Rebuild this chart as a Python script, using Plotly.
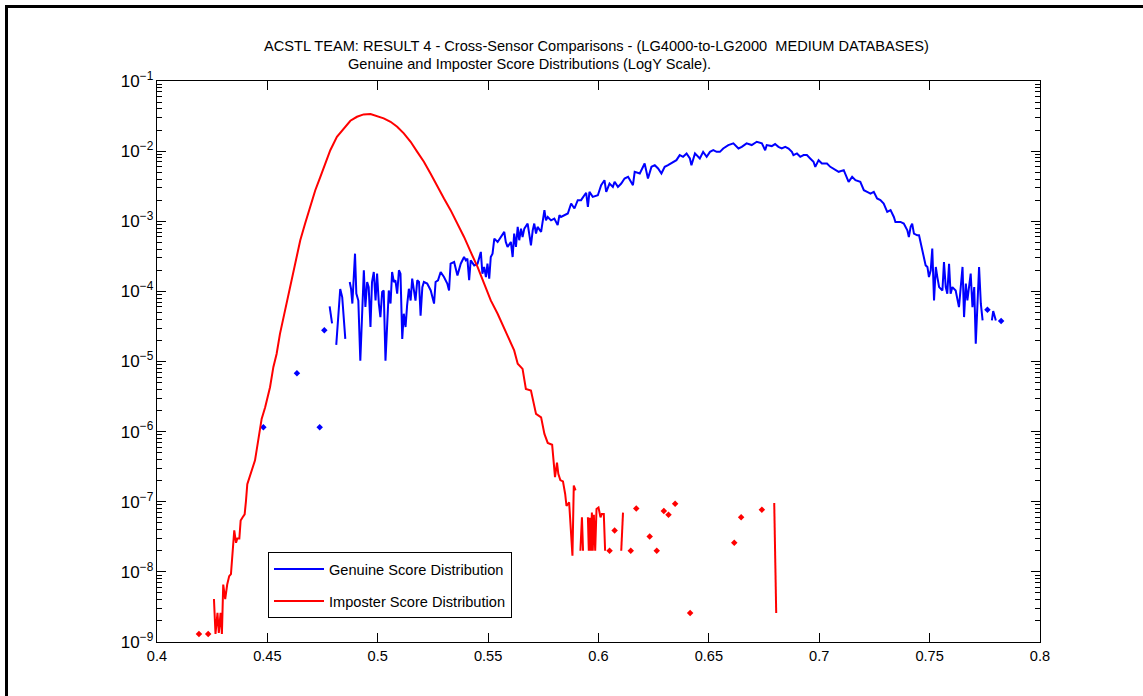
import plotly.graph_objects as go

# ---------------- data ----------------
gen_x = [0.4482, None, 0.4634, None, 0.4737, None, 0.4758, None,
         0.4782, 0.4793, None,
         0.4812, 0.4830, 0.4839, 0.4853, None,
         0.4873, 0.4879, 0.4885, 0.4891, 0.4897, 0.4903, 0.4912, 0.4921, 0.4929, 0.4937,
         0.4944, 0.4952, 0.4959, 0.4967, 0.4974, 0.4982, 0.4990, 0.4997, 0.5005, 0.5012,
         0.5020, 0.5027, 0.5035, 0.5043, 0.5050, 0.5058, 0.5065, 0.5073, 0.5080, 0.5088,
         0.5096, 0.5103, 0.5111, 0.5118, 0.5126, 0.5133, 0.5141, 0.5149, 0.5156, 0.5164,
         0.5171, 0.5179, 0.5187, 0.5194, 0.5202, 0.5209, 0.5224, 0.5240, 0.5255, 0.5262,
         0.5273, 0.5285, 0.5300, 0.5315, 0.5323, 0.5330, 0.5346, 0.5361, 0.5376, 0.5391,
         0.5399, 0.5406, 0.5414, 0.5421, 0.5437, 0.5452, 0.5467, 0.5474, 0.5482, 0.5490,
         0.5497, 0.5505, 0.5512, 0.5520, 0.5528, 0.5543, 0.5558, 0.5573, 0.5580, 0.5588,
         0.5603, 0.5611, 0.5618, 0.5626, 0.5634, 0.5641, 0.5649, 0.5656, 0.5664, 0.5679,
         0.5686, 0.5694, 0.5702, 0.5709, 0.5717, 0.5724, 0.5740, 0.5755, 0.5762, 0.5770,
         0.5785, 0.5800, 0.5815, 0.5823, 0.5830, 0.5846, 0.5861, 0.5876, 0.5891, 0.5906,
         0.5921, 0.5936, 0.5944, 0.5952, 0.5959, 0.5974, 0.5997, 0.6012, 0.6027, 0.6035,
         0.6050, 0.6065, 0.6073, 0.6088, 0.6103, 0.6118, 0.6134, 0.6156, 0.6164, 0.6187,
         0.6209, 0.6224, 0.6240, 0.6255, 0.6270, 0.6285, 0.6300, 0.6315, 0.6338, 0.6353,
         0.6368, 0.6383, 0.6399, 0.6414, 0.6421, 0.6437, 0.6459, 0.6474, 0.6490, 0.6505,
         0.6520, 0.6535, 0.6550, 0.6565, 0.6588, 0.6611, 0.6634, 0.6649, 0.6671, 0.6694,
         0.6717, 0.6740, 0.6755, 0.6762, 0.6785, 0.6800, 0.6815, 0.6830, 0.6846, 0.6861,
         0.6876, 0.6883, 0.6899, 0.6914, 0.6929, 0.6944, 0.6959, 0.6974, 0.6982, 0.6997,
         0.7012, 0.7035, 0.7050, 0.7065, 0.7088, 0.7111, 0.7133, 0.7149, 0.7164, 0.7186,
         0.7202, 0.7217, 0.7232, 0.7247, 0.7262, 0.7277, 0.7292, 0.7308, 0.7323, 0.7338,
         0.7345, 0.7368, 0.7383, 0.7399, 0.7406, 0.7414, 0.7421, 0.7429, 0.7444, 0.7452,
         0.7467, 0.7482, 0.7490, 0.7497, 0.7505, 0.7512, 0.7520, 0.7528, 0.7535, 0.7543,
         0.7558, 0.7565, 0.7573, 0.7580, 0.7588, 0.7595, 0.7603, 0.7618, 0.7633, 0.7649,
         0.7656, 0.7664, 0.7671, 0.7679, 0.7686, 0.7694, 0.7702, 0.7709, 0.7717, 0.7724,
         0.7732, 0.7740, None, 0.7762, None, 0.7782, 0.7788, 0.7800, None, 0.7824]
gen_y = [1.15e-6, None, 6.8e-6, None, 1.15e-6, None, 2.8e-5, None,
         6.1e-5, 3.5e-5, None,
         1.73e-5, 1.08e-4, 8.3e-5, 2.1e-5, None,
         1.36e-4, 1.09e-4, 6.7e-5, 1.44e-4, 3.45e-4, 9.3e-5, 7.4e-5, 1.03e-5, 4.8e-5, 2.0e-4,
         6.0e-5, 1.36e-4, 1.15e-4, 3.1e-5, 1.36e-4, 1.89e-4, 7.4e-5, 1.79e-4, 6.7e-5, 4.3e-5,
         9.8e-5, 1.03e-4, 1.03e-5, 4.8e-5, 1.03e-4, 6.7e-5, 1.89e-4, 1.36e-4, 1.44e-4, 9.3e-5,
         2.0e-4, 1.79e-4, 2.1e-5, 4.8e-5, 3.1e-5, 6.3e-5, 1.09e-4, 7.4e-5, 1.52e-4, 1.03e-4,
         7.4e-5, 1.44e-4, 1.36e-4, 4.5e-5, 1.15e-4, 1.36e-4, 1.29e-4, 1.03e-4, 6.7e-5, 1.36e-4,
         1.44e-4, 1.89e-4, 1.60e-4, 1.29e-4, 1.03e-4, 2.48e-4, 2.62e-4, 1.69e-4, 2.48e-4, 3.09e-4,
         2.77e-4, 2.93e-4, 1.44e-4, 2.77e-4, 2.35e-4, 2.48e-4, 3.65e-4, 1.79e-4, 2.23e-4, 1.60e-4,
         2.48e-4, 1.52e-4, 3.09e-4, 3.45e-4, 5.65e-4, 5.07e-4, 5.97e-4, 7.05e-4, 5.07e-4, 4.3e-4,
         5.07e-4, 3.09e-4, 6.67e-4, 4.3e-4, 8.3e-4, 5.36e-4, 7.85e-4, 5.97e-4, 7.85e-4, 9.27e-4,
         6.67e-4, 4.54e-4, 7.43e-4, 9.27e-4, 6.67e-4, 8.3e-4, 7.05e-4, 1.44e-3, 1.03e-3, 1.15e-3,
         1.03e-3, 1.09e-3, 8.8e-4, 1.22e-3, 1.15e-3, 1.22e-3, 1.29e-3, 1.79e-3, 1.52e-3, 2.0e-3,
         2.0e-3, 2.35e-3, 2.54e-3, 1.60e-3, 2.62e-3, 2.23e-3, 2.35e-3, 3.27e-3, 3.85e-3, 2.62e-3,
         3.45e-3, 3.09e-3, 3.65e-3, 3.09e-3, 3.45e-3, 4.07e-3, 4.30e-3, 3.27e-3, 5.07e-3, 4.80e-3,
         6.67e-3, 4.07e-3, 5.97e-3, 6.3e-3, 5.65e-3, 4.80e-3, 5.97e-3, 6.3e-3, 7.05e-3, 7.43e-3,
         8.77e-3, 8.3e-3, 9.27e-3, 7.85e-3, 6.3e-3, 9.27e-3, 7.85e-3, 9.77e-3, 8.3e-3, 9.77e-3,
         1.03e-2, 9.77e-3, 9.77e-3, 1.09e-2, 1.22e-2, 1.29e-2, 1.09e-2, 1.15e-2, 1.29e-2, 1.22e-2,
         1.36e-2, 1.29e-2, 1.03e-2, 1.22e-2, 1.18e-2, 1.26e-2, 1.15e-2, 1.09e-2, 1.15e-2, 1.09e-2,
         9.77e-3, 8.77e-3, 9.27e-3, 8.3e-3, 8.77e-3, 8.77e-3, 7.85e-3, 7.05e-3, 5.97e-3, 7.43e-3,
         6.67e-3, 6.67e-3, 5.97e-3, 5.65e-3, 5.07e-3, 5.36e-3, 3.65e-3, 4.30e-3, 3.85e-3, 3.65e-3,
         2.77e-3, 2.62e-3, 2.48e-3, 2.62e-3, 2.11e-3, 2.0e-3, 1.79e-3, 1.36e-3, 1.44e-3, 1.15e-3,
         9.77e-4, 9.77e-4, 9.27e-4, 7.43e-4, 5.97e-4, 8.3e-4, 9.27e-4, 6.67e-4, 6.3e-4, 6.3e-4,
         3.85e-4, 2.35e-4, 2.23e-4, 1.60e-4, 2.0e-4, 4.07e-4, 7.43e-5, 2.23e-4, 1.60e-4, 1.15e-4,
         1.03e-4, 2.62e-4, 1.15e-4, 9.27e-5, 2.48e-4, 9.27e-5, 1.15e-4, 1.03e-4, 5.97e-5, 2.23e-4,
         4.3e-5, 1.29e-4, 7.43e-5, 1.15e-4, 1.79e-4, 5.97e-5, 1.15e-4, 1.79e-5, 5.97e-5, 2.23e-4,
         6.67e-5, 3.85e-5, None, 5.47e-5, None, 3.85e-5, 5.24e-5, 3.85e-5, None, 3.77e-5]

imp_x = [0.4190, None, 0.4232, None,
         0.4258, 0.4265, 0.4274, 0.4280, 0.4288, 0.4294, 0.4300, 0.4309, 0.4318, 0.4327,
         0.4335, 0.4343, 0.4350, 0.4358, 0.4364, 0.4373, 0.4379, 0.4388, 0.4397, 0.4403,
         0.4409, 0.4444, 0.4455, 0.4474, 0.4490, 0.4512, 0.4527, 0.4542, 0.4557, 0.4580,
         0.4603, 0.4626, 0.4649, 0.4671, 0.4694, 0.4717, 0.4740, 0.4762, 0.4785, 0.4815,
         0.4845, 0.4876, 0.4906, 0.4936, 0.4967, 0.4997, 0.5027, 0.5058, 0.5088, 0.5118,
         0.5149, 0.5179, 0.5209, 0.5239, 0.5270, 0.5300, 0.5330, 0.5361, 0.5391, 0.5421,
         0.5452, 0.5482, 0.5512, 0.5543, 0.5573, 0.5603, 0.5618, 0.5634, 0.5656, 0.5671,
         0.5694, 0.5717, 0.5740, 0.5755, 0.5770, 0.5790, 0.5797, 0.5803, 0.5812, 0.5818,
         0.5827, 0.5839, 0.5849, 0.5855, 0.5867, 0.5876, 0.5882, 0.5888, 0.5896, None,
         0.5918, 0.5925, 0.5930, None,
         0.5952, 0.5956, 0.5961, 0.5965, 0.5970, 0.5974, 0.5979, 0.5985, 0.5991, 0.6000,
         0.6009, 0.6015, 0.6024, 0.6030, None,
         0.6050, None, 0.6073, None, 0.6103, 0.6111, None, 0.6146, None, 0.6171, None,
         0.6232, None, 0.6264, None, 0.6296, None, 0.6317, None, 0.6347, None, 0.6415, None,
         0.6615, None, 0.6646, None, 0.6740, None, 0.6796, 0.6805]
imp_y = [1.3e-9, None, 1.3e-9, None,
         4.1e-9, 1.3e-9, 2.6e-9, 1.35e-9, 2.6e-9, 1.3e-9, 6.6e-9, 4.1e-9, 6.6e-9, 8.7e-9,
         9.3e-9, 2.0e-8, 3.9e-8, 2.6e-8, 3.0e-8, 3.0e-8, 5.4e-8, 6.0e-8, 6.6e-8, 1.02e-7,
         1.78e-7, 3.9e-7, 6.7e-7, 1.52e-6, 2.23e-6, 4.3e-6, 8.3e-6, 1.29e-5, 2.48e-5, 5.36e-5,
         1.15e-4, 2.48e-4, 5.36e-4, 9.27e-4, 1.60e-3, 2.77e-3, 4.30e-3, 6.67e-3, 1.03e-2, 1.60e-2,
         2.11e-2, 2.71e-2, 3.09e-2, 3.34e-2, 3.38e-2, 3.16e-2, 2.93e-2, 2.62e-2, 2.23e-2, 1.79e-2,
         1.36e-2, 9.77e-3, 7.05e-3, 4.80e-3, 3.09e-3, 2.11e-3, 1.44e-3, 9.27e-4, 5.97e-4, 3.65e-4,
         2.23e-4, 1.29e-4, 7.43e-5, 4.80e-5, 2.93e-5, 1.79e-5, 1.44e-5, 9.27e-6, 7.85e-6, 4.07e-6,
         3.85e-6, 1.79e-6, 1.60e-6, 9.27e-7, 6.9e-7, 6.5e-7, 3.9e-7, 2.24e-7, 3.6e-7, 2.5e-7,
         2.04e-7, 1.95e-7, 1.29e-7, 8.7e-8, 9.8e-8, 4.1e-8, 1.7e-8, 1.7e-7, 1.45e-7, None,
         2.0e-8, 6.0e-8, 2.0e-8, None,
         6.0e-8, 2.0e-8, 5.9e-8, 2.0e-8, 7.0e-8, 2.0e-8, 6.5e-8, 2.0e-8, 7.9e-8, 8.3e-8,
         6.0e-8, 6.7e-8, 6.7e-8, 2.0e-8, None,
         2.0e-8, None, 3.9e-8, None, 2.0e-8, 7.0e-8, None, 2.0e-8, None, 8.0e-8, None,
         3.2e-8, None, 2.0e-8, None, 7.4e-8, None, 6.5e-8, None, 9.4e-8, None, 2.6e-9, None,
         2.6e-8, None, 6.0e-8, None, 7.7e-8, None, 9.6e-8, 2.6e-9]

x_tick_values = [0.4, 0.45, 0.5, 0.55, 0.6, 0.65, 0.7, 0.75, 0.8]
x_tick_labels = ["0.4", "0.45", "0.5", "0.55", "0.6", "0.65", "0.7", "0.75", "0.8"]
y_exponents = [-9, -8, -7, -6, -5, -4, -3, -2, -1]

title_line1 = "ACSTL TEAM: RESULT 4 - Cross-Sensor Comparisons - (LG4000-to-LG2000\u00a0 MEDIUM DATABASES)"
title_line2 = "Genuine and Imposter Score Distributions (LogY Scale)."
series_names = ["Genuine Score Distribution", "Imposter Score Distribution"]
BLUE = "#0000FF"
RED = "#FF0000"
FONT = "Liberation Sans, Arial, sans-serif"
FS = 14.6
FS_Y = 13.6


def isolated_points(xs, ys):
    """Points with no neighbour on either side (drawn as dots, as MATLAB does)."""
    ox, oy = [], []
    n = len(ys)
    for i in range(n):
        if ys[i] is None:
            continue
        left = i == 0 or ys[i - 1] is None
        right = i == n - 1 or ys[i + 1] is None
        if left and right:
            ox.append(xs[i])
            oy.append(ys[i])
    return ox, oy


fig = go.Figure()
for xs, ys, name, col, grp in [(gen_x, gen_y, series_names[0], BLUE, "g"),
                               (imp_x, imp_y, series_names[1], RED, "i")]:
    fig.add_trace(go.Scatter(x=xs, y=ys, mode="lines", name=name, legendgroup=grp,
                             line=dict(color=col, width=2), connectgaps=False))
    ix, iy = isolated_points(xs, ys)
    fig.add_trace(go.Scatter(x=ix, y=iy, mode="markers", showlegend=False, legendgroup=grp,
                             marker=dict(symbol="diamond", size=5, color=col,
                                         line=dict(width=0))))

L, R, T, B = 157, 1040, 81, 642
W, H = 1143, 696
pw, ph = R - L, B - T


def px2paper_x(px):
    return (px - L) / pw


def px2paper_y(py):
    return (B - py) / ph


fig.update_layout(
    width=W, height=H,
    margin=dict(l=L, r=W - R, t=T, b=H - B, pad=0),
    paper_bgcolor="white", plot_bgcolor="white",
    font=dict(family=FONT, size=FS, color="black"),
    showlegend=True,
    legend=dict(x=px2paper_x(268), y=px2paper_y(552), xanchor="left", yanchor="top",
                bgcolor="white", bordercolor="black", borderwidth=1,
                font=dict(family=FONT, size=FS, color="black"),
                tracegroupgap=10, itemwidth=50),
)

fig.update_xaxes(range=[0.4, 0.8], tickvals=x_tick_values, ticktext=x_tick_labels,
                 ticks="inside", ticklen=9, tickwidth=1, tickcolor="black",
                 showline=True, linecolor="black", linewidth=1, mirror="allticks",
                 showgrid=False, zeroline=False,
                 tickfont=dict(family=FONT, size=FS, color="black"))
fig.update_yaxes(type="log", range=[min(y_exponents), max(y_exponents)], dtick=1,
                 exponentformat="power",
                 ticks="inside", ticklen=9, tickwidth=1, tickcolor="black",
                 minor=dict(ticks="inside", ticklen=5, tickwidth=1, tickcolor="black"),
                 showline=True, linecolor="black", linewidth=1, mirror="allticks",
                 showgrid=False, zeroline=False,
                 tickfont=dict(family=FONT, size=FS_Y, color="black"))

fig.add_annotation(text=title_line1, xref="paper", yref="paper",
                   x=px2paper_x(596), y=px2paper_y(46), xanchor="center", yanchor="middle",
                   showarrow=False, font=dict(family=FONT, size=FS, color="black"))
fig.add_annotation(text=title_line2, xref="paper", yref="paper",
                   x=px2paper_x(346), y=px2paper_y(64), xanchor="left", yanchor="middle",
                   showarrow=False, font=dict(family=FONT, size=FS, color="black"))

# outer frame of the screenshot (top and left edges)
fig.add_shape(type="line", xref="paper", yref="paper",
              x0=px2paper_x(6.5), y0=px2paper_y(6.5), x1=px2paper_x(W + 20), y1=px2paper_y(6.5),
              line=dict(color="black", width=3))
fig.add_shape(type="line", xref="paper", yref="paper",
              x0=px2paper_x(6.5), y0=px2paper_y(5), x1=px2paper_x(6.5), y1=px2paper_y(H + 20),
              line=dict(color="black", width=3))

fig.write_html("out.html", config={"displayModeBar": False},
               post_script="document.body.style.margin='0';document.body.style.overflow='hidden';")
